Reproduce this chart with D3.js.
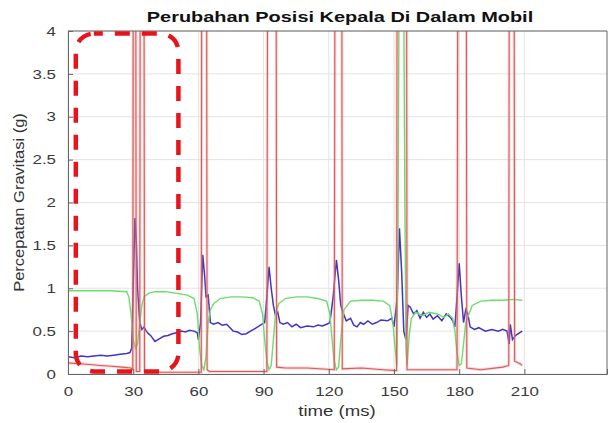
<!DOCTYPE html>
<html>
<head>
<meta charset="utf-8">
<script src="https://cdn.jsdelivr.net/npm/d3@7"></script>
<style>
  body { margin: 0; background: #fff; }
  text { font-family: "Liberation Sans", Arial, sans-serif; }
</style>
</head>
<body>
<svg id="chart" width="609" height="423"></svg>
<script>
// head position data (time in ms, value in g)
var redT = [0, 5, 10, 15, 20, 25, 29, 29.8, 30, 31.2, 31.4, 33, 33.2, 35, 35.2, 40, 50, 55, 61.3, 61.5, 63.8, 64, 65, 70, 80, 91.5, 91.8, 95.8, 96, 100, 110, 122.5, 122.8, 126, 126.2, 135, 145, 151.2, 151.4, 155.8, 156, 165, 179, 179.3, 183.3, 183.5, 190, 200, 202.8, 203, 205.3, 205.5, 208, 209];
var redV = [0.13, 0.12, 0.11, 0.1, 0.09, 0.08, 0.07, 0.05, 4.3, 4.3, 0.03, 0.03, 4.3, 4.3, 0.02, 0.02, 0.02, 0.02, 0.02, 4.3, 4.3, 0.05, 0.03, 0.03, 0.03, 0.03, 4.3, 4.3, 0.08, 0.07, 0.07, 0.05, 4.3, 4.3, 0.06, 0.07, 0.05, 0.04, 4.3, 4.3, 0.05, 0.05, 0.05, 4.3, 4.3, 0.07, 0.05, 0.08, 0.1, 4.3, 4.3, 0.15, 0.12, 0.1];

var greenT = [0, 10, 20, 27, 28, 29, 30, 31, 32, 33, 34, 35, 37, 40, 45, 50, 55, 58, 59.5, 60.5, 61.5, 62.5, 63.5, 64.5, 65.5, 67, 70, 75, 80, 85, 88, 89.5, 90.5, 91.5, 92.5, 93.5, 94.5, 95.5, 97, 100, 105, 110, 115, 119, 120.5, 121.5, 122.5, 123.5, 124.5, 125.5, 127, 130, 135, 140, 145, 148, 149.5, 150.5, 151.3, 151.8, 152.3, 154.5, 155, 155.5, 156, 157, 158, 160, 163, 166, 170, 173, 175, 177, 178, 179, 180, 181, 182, 183, 184.5, 186, 190, 195, 200, 205, 209];
var greenV = [0.97, 0.97, 0.97, 0.96, 0.9, 0.7, 0.4, 0.3, 0.35, 0.6, 0.8, 0.9, 0.94, 0.96, 0.96, 0.94, 0.92, 0.88, 0.7, 0.3, 0.1, 0.05, 0.2, 0.6, 0.75, 0.82, 0.88, 0.9, 0.9, 0.89, 0.85, 0.7, 0.4, 0.15, 0.05, 0.1, 0.4, 0.7, 0.82, 0.88, 0.9, 0.9, 0.88, 0.85, 0.7, 0.4, 0.15, 0.05, 0.08, 0.4, 0.75, 0.85, 0.86, 0.86, 0.85, 0.8, 0.6, 0.3, 0.1, 1.5, 4.3, 4.3, 2.0, 0.3, 0.1, 0.45, 0.65, 0.72, 0.68, 0.72, 0.7, 0.66, 0.7, 0.65, 0.5, 0.25, 0.1, 0.12, 0.35, 0.6, 0.7, 0.8, 0.85, 0.86, 0.86, 0.87, 0.86];

var blueT = [0, 3, 6, 9, 12, 15, 18, 21, 24, 27, 28.5, 29.3, 30, 30.8, 31.5, 32, 33, 34, 35, 36, 37, 38, 40, 42, 44, 46, 48, 50, 52, 54, 56, 58, 59.5, 60, 61, 62, 63, 63.5, 64.5, 65.5, 67, 69, 71, 73, 76, 78, 80, 82, 84, 86, 88, 90.5, 91.5, 92.5, 93.5, 94.5, 95.5, 96.5, 97.5, 99, 101, 103, 105, 107, 110, 113, 115, 117, 119, 120.5, 122, 123.5, 124.5, 125.5, 126.5, 128, 130, 131.5, 133, 134.5, 136, 138, 140, 142, 144, 147, 149, 150, 151.5, 152.5, 153.5, 154.5, 155.5, 156.5, 157.5, 159, 160.5, 162, 163.5, 165, 166.5, 168, 170, 172, 174, 176, 177, 178, 179, 180, 181, 182, 183, 184, 185, 187, 189, 192, 195, 198, 200, 202, 203, 203.5, 204.5, 206, 209];
var blueV = [0.2, 0.19, 0.21, 0.2, 0.21, 0.22, 0.21, 0.22, 0.23, 0.24, 0.25, 0.3, 1.0, 1.82, 1.5, 1.0, 0.6, 0.52, 0.55, 0.5, 0.47, 0.45, 0.38, 0.41, 0.44, 0.45, 0.47, 0.48, 0.5, 0.49, 0.51, 0.5, 0.48, 0.4, 0.6, 1.39, 1.1, 0.9, 0.92, 0.6, 0.58, 0.6, 0.57, 0.58, 0.5, 0.49, 0.46, 0.47, 0.5, 0.53, 0.56, 0.6, 0.9, 1.25, 1.0, 0.8, 0.68, 0.72, 0.6, 0.58, 0.6, 0.55, 0.58, 0.54, 0.56, 0.55, 0.57, 0.56, 0.58, 0.6, 0.9, 1.33, 1.1, 0.8, 0.72, 0.62, 0.65, 0.57, 0.55, 0.6, 0.58, 0.62, 0.58, 0.6, 0.63, 0.62, 0.65, 0.55, 0.9, 1.7, 1.2, 0.5, 0.4, 0.8, 0.78, 0.7, 0.74, 0.65, 0.72, 0.66, 0.7, 0.64, 0.68, 0.62, 0.7, 0.66, 0.62, 0.55, 0.9, 1.29, 0.9, 0.6, 0.75, 0.7, 0.55, 0.52, 0.54, 0.5, 0.52, 0.5, 0.52, 0.5, 0.35, 0.58, 0.4, 0.45, 0.5];

var xTicks = [0, 30, 60, 90, 120, 150, 180, 210];
var yTicks = [0, 0.5, 1, 1.5, 2, 2.5, 3, 3.5, 4];

var svg = d3.select('#chart');
var pLeft = 68, pRight = 607, pTop = 31, pBottom = 374;
var stretch = 1.3; // the source picture is stretched sideways

var x = d3.scaleLinear().domain([0, 248]).range([pLeft, pRight]);
var y = d3.scaleLinear().domain([0, 4]).range([pBottom, pTop]);

// grid
svg.append('g').selectAll('line')
    .data(xTicks)
    .enter().append('line')
    .attr('x1', d => x(d)).attr('x2', d => x(d))
    .attr('y1', pTop).attr('y2', pBottom)
    .attr('stroke', '#e3e3e3').attr('stroke-width', 1);
svg.append('g').selectAll('line')
    .data(yTicks)
    .enter().append('line')
    .attr('x1', pLeft).attr('x2', pRight)
    .attr('y1', d => y(d)).attr('y2', d => y(d))
    .attr('stroke', '#e3e3e3').attr('stroke-width', 1);

svg.append('clipPath').attr('id', 'clip')
    .append('rect').attr('x', pLeft).attr('y', pTop).attr('width', pRight - pLeft).attr('height', pBottom - pTop);
var plot = svg.append('g').attr('clip-path', 'url(#clip)');

function series(ts, vs) {
    return ts.map((t, i) => [t, vs[i]]);
}
var line = d3.line().x(d => x(d[0])).y(d => y(d[1]));

plot.append('path')
    .datum(series(blueT, blueV))
    .attr('d', line)
    .attr('fill', 'none')
    .attr('stroke', '#4234c4')
    .attr('stroke-width', 1.5);

plot.append('path')
    .datum(series(greenT, greenV))
    .attr('fill', 'none')
    .attr('d', line)
    .attr('stroke', '#6ade6a')
    .attr('stroke-width', 1.4);

// red: pale halo + thin core
plot.append('path')
    .datum(series(redT, redV))
    .attr('d', line)
    .attr('fill', 'none')
    .attr('stroke', '#f08a8a')
    .attr('stroke-opacity', 0.35)
    .attr('stroke-width', 3);
plot.append('path')
    .datum(series(redT, redV))
    .attr('d', line)
    .attr('fill', 'none')
    .attr('stroke', '#d95a5a')
    .attr('stroke-width', 1.1);

// axes with inward ticks, box on
var xAxis = svg.append('g')
    .attr('transform', 'translate(0,' + pBottom + ')')
    .call(d3.axisBottom(x).tickValues(xTicks).tickSize(-5).tickPadding(13).tickFormat(d3.format('d')));
var yAxis = svg.append('g')
    .attr('transform', 'translate(' + pLeft + ',0)')
    .call(d3.axisLeft(y).tickValues(yTicks).tickSize(-5).tickPadding(12).tickFormat(d => d));
[xAxis, yAxis].forEach(function (g) {
    g.select('.domain').attr('stroke', '#666');
    g.selectAll('.tick line').attr('stroke', '#666');
    g.selectAll('.tick text').attr('fill', '#3a3a3a').attr('font-size', '13px')
        .style('font-family', '"Liberation Sans", Arial, sans-serif');
});
xAxis.selectAll('.tick text').attr('transform', 'scale(' + stretch + ',1)');
yAxis.selectAll('.tick text')
    .attr('x', -12 / stretch)
    .attr('transform', 'scale(' + stretch + ',1)');
svg.append('line').attr('x1', pLeft).attr('x2', pRight).attr('y1', pTop).attr('y2', pTop).attr('stroke', '#666');
svg.append('line').attr('x1', pRight).attr('x2', pRight).attr('y1', pTop).attr('y2', pBottom).attr('stroke', '#666');

// red dashed highlight box
var box = { t0: 3.6, t1: 50.8, v0: 0.03, v1: 3.97 };
svg.append('rect')
    .attr('x', x(box.t0))
    .attr('y', y(box.v1))
    .attr('width', x(box.t1) - x(box.t0))
    .attr('height', y(box.v0) - y(box.v1))
    .attr('rx', 18).attr('ry', 18)
    .attr('fill', 'none')
    .attr('stroke', '#e8141c')
    .attr('stroke-width', 4.5)
    .attr('stroke-dasharray', '15,12')
    .attr('stroke-dashoffset', 6);

svg.append('text')
    .attr('transform', 'translate(340,22) scale(1.33,1)')
    .attr('text-anchor', 'middle')
    .attr('font-size', '15px')
    .attr('font-weight', 'bold')
    .attr('fill', '#111')
    .text('Perubahan Posisi Kepala Di Dalam Mobil');

svg.append('text')
    .attr('transform', 'translate(337,416) scale(1.33,1)')
    .attr('text-anchor', 'middle')
    .attr('font-size', '14px')
    .attr('fill', '#333')
    .text('time (ms)');

svg.append('text')
    .attr('transform', 'translate(24,' + ((pTop + pBottom) / 2) + ') rotate(-90) scale(1.1,1)')
    .attr('text-anchor', 'middle')
    .attr('font-size', '15px')
    .attr('fill', '#333')
    .text('Percepatan Gravitasi (g)');
</script>
</body>
</html>
